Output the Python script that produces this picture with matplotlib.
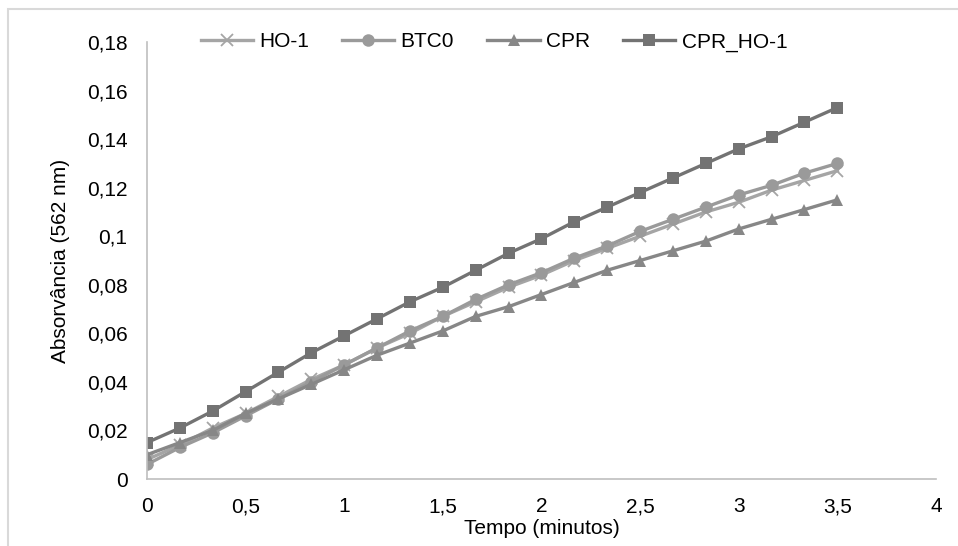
import matplotlib
matplotlib.use('Agg')
import matplotlib.pyplot as plt
from matplotlib.patches import Rectangle
from matplotlib.ticker import FuncFormatter

plt.rcParams['font.family'] = ['Liberation Sans', 'DejaVu Sans']

# tempo em minutos (intervalos de 10 s)
tempo = [i / 6 for i in range(22)]

ho1 = [0.008, 0.014, 0.021, 0.027, 0.034, 0.041, 0.047, 0.054, 0.060, 0.067, 0.073,
       0.079, 0.084, 0.090, 0.095, 0.100, 0.105, 0.110, 0.114, 0.119, 0.123, 0.127]
btc0 = [0.006, 0.013, 0.019, 0.026, 0.033, 0.040, 0.047, 0.054, 0.061, 0.067, 0.074,
        0.080, 0.085, 0.091, 0.096, 0.102, 0.107, 0.112, 0.117, 0.121, 0.126, 0.130]
cpr = [0.010, 0.015, 0.020, 0.027, 0.033, 0.039, 0.045, 0.051, 0.056, 0.061, 0.067,
       0.071, 0.076, 0.081, 0.086, 0.090, 0.094, 0.098, 0.103, 0.107, 0.111, 0.115]
cpr_ho1 = [0.015, 0.021, 0.028, 0.036, 0.044, 0.052, 0.059, 0.066, 0.073, 0.079, 0.086,
           0.093, 0.099, 0.106, 0.112, 0.118, 0.124, 0.130, 0.136, 0.141, 0.147, 0.153]

labels = ['HO-1', 'BTC0', 'CPR', 'CPR_HO-1']
series = [ho1, btc0, cpr, cpr_ho1]
markers = ['x', 'o', '^', 's']
colors = ['#A5A5A5', '#9A9A9A', '#878787', '#737373']

fig = plt.figure(figsize=(9.58, 5.46), dpi=100)
ax = fig.add_axes([0.1534, 0.1227, 0.8236, 0.8003])

for y, lab, m, c in zip(series, labels, markers, colors):
    ax.plot(tempo, y, color=c, linewidth=2.4, marker=m, markersize=9 if m != 'x' else 8,
            markeredgewidth=1.3 if m == 'x' else 0, markeredgecolor=c, label=lab)

ax.set_xlim(0, 4)
ax.set_ylim(0, 0.18)
ax.set_xticks([0, 0.5, 1, 1.5, 2, 2.5, 3, 3.5, 4])
ax.set_yticks([0, 0.02, 0.04, 0.06, 0.08, 0.1, 0.12, 0.14, 0.16, 0.18])
fmt = FuncFormatter(lambda v, p: ('%g' % round(v, 3)).replace('.', ','))
ax.xaxis.set_major_formatter(fmt)
ax.yaxis.set_major_formatter(fmt)
ax.tick_params(axis='y', length=0, labelsize=15, colors='#000000', pad=14)
ax.tick_params(axis='x', length=0, labelsize=15, colors='#000000', pad=13)
for s in ['top', 'right']:
    ax.spines[s].set_visible(False)
for s in ['left', 'bottom']:
    ax.spines[s].set_color('#BFBFBF')
    ax.spines[s].set_linewidth(1.2)

ax.set_xlabel('Tempo (minutos)', fontsize=15, labelpad=2)
ax.set_ylabel('Absorvância (562 nm)', fontsize=15, labelpad=12)

fig.legend(loc='center', bbox_to_anchor=(494 / 958, 1 - 42 / 546), ncol=4, frameon=False,
           fontsize=15, handlelength=2.5, columnspacing=1.6, handletextpad=0.3)

fig.patches.append(Rectangle((8 / 958, -0.1), 1.2, 1.1 - 9 / 546, transform=fig.transFigure,
                             fill=False, edgecolor='#D9D9D9', linewidth=1.5))

fig.savefig('out.png', dpi=100)
